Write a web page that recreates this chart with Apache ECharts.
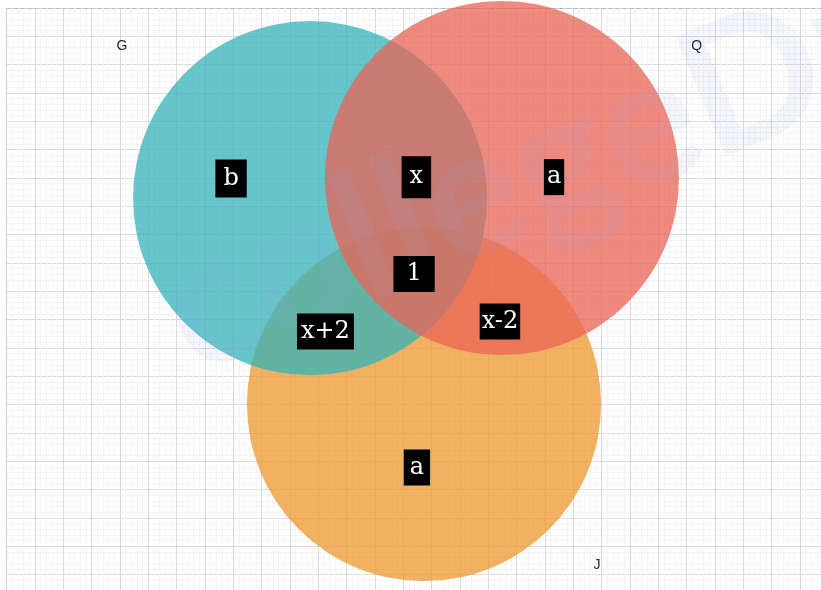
<!DOCTYPE html>
<html><head><meta charset="utf-8">
<script src="https://cdn.jsdelivr.net/npm/echarts@6/dist/echarts.min.js"></script>
<style>html,body{margin:0;padding:0;background:#fff}#c{width:821px;height:590px}</style>
</head><body><div id="c"></div>
<script>
// Sets (circles) in grid units
const setNames = ['G', 'Q', 'J'];
const setCx = [10.71, 17.48, 14.73];
const setCy = [6.71, 6.0, 13.98];
const setR = [6.25, 6.25, 6.25];
const setNameX = [4.07, 24.36, 20.84];
const setNameY = [1.34, 1.34, 19.66];

// Region labels
const regionLabels = ['b', 'x', 'a', '1', 'x+2', 'x-2', 'a'];
const regionX = [7.92, 14.46, 19.32, 14.38, 11.25, 17.41, 14.48];
const regionY = [6.02, 5.97, 5.97, 9.39, 11.42, 11.07, 16.22];

// styles
const setColors = ['rgba(51,179,187,0.75)', 'rgba(234,99,86,0.75)', 'rgba(238,152,48,0.75)'];
const drawOrder = [2, 0, 1];
const padH = [8, 8, 3, 13, 4, 2, 6];
const padV = [7, 9, 6, 6, 6, 6, 6];

const circleData = drawOrder.map(i => ({
  name: setNames[i],
  value: [setCx[i], setCy[i], setR[i]],
  itemStyle: { color: setColors[i] }
}));
const regionData = regionLabels.map((t, i) => ({
  name: t,
  value: [regionX[i], regionY[i]],
  label: { padding: [padV[i], padH[i], padV[i], padH[i]] }
}));
const nameData = setNames.map((t, i) => ({ name: t, value: [setNameX[i], setNameY[i]] }));

const chart = echarts.init(document.getElementById('c'), null, { renderer: 'canvas' });
const unit = 28.33;
const gLeft = 6.7, gTop = 8;
const xMax = (821 - gLeft) / unit;
const yMax = (590 - gTop) / unit;
chart.setOption({
  animation: false,
  backgroundColor: '#fff',
  grid: { left: gLeft, top: gTop, right: 0, bottom: 0, containLabel: false },
  xAxis: {
    type: 'value', min: 0, max: xMax, interval: 1, position: 'top',
    axisLine: { show: true, lineStyle: { color: '#bbb', type: [4, 3], width: 1 } },
    axisTick: { show: false }, axisLabel: { show: false },
    splitLine: { show: true, lineStyle: { color: '#dadada', width: 1 } },
    minorTick: { show: false, splitNumber: 5 },
    minorSplitLine: { show: true, lineStyle: { color: '#f4f4f4', width: 1 } }
  },
  yAxis: {
    type: 'value', min: 0, max: yMax, interval: 1, inverse: true,
    axisLine: { show: true, lineStyle: { color: '#cfcfcf', width: 1 } },
    axisTick: { show: false }, axisLabel: { show: false },
    splitLine: { show: true, lineStyle: { color: '#dadada', width: 1 } },
    minorTick: { show: false, splitNumber: 5 },
    minorSplitLine: { show: true, lineStyle: { color: '#f4f4f4', width: 1 } }
  },
  graphic: [{
    type: 'text', x: 205, y: 405, rotation: 0.39, z: 5, silent: true,
    style: { text: 'collegeDunia', font: 'bold 180px Lato', fill: 'rgba(160,170,225,0.1)', textAlign: 'left', textVerticalAlign: 'bottom' }
  }],
  series: [
    {
      type: 'custom', z: 2,
      renderItem: function (params, api) {
        const c = api.coord([api.value(0), api.value(1)]);
        const s = api.size([api.value(2), api.value(2)]);
        return { type: 'circle', shape: { cx: c[0], cy: c[1], r: s[0] }, style: { fill: api.visual('color') } };
      },
      data: circleData
    },
    {
      type: 'scatter', z: 60, zlevel: 1, symbolSize: 1, itemStyle: { color: 'rgba(0,0,0,0)', opacity: 1 },
      label: {
        show: true, position: 'inside', formatter: '{b}', color: '#fff',
        fontFamily: 'DejaVu Serif', fontSize: 24, backgroundColor: '#000', lineHeight: 24, opacity: 1
      },
      data: regionData
    },
    {
      type: 'scatter', z: 60, zlevel: 1, symbolSize: 1, itemStyle: { color: 'rgba(0,0,0,0)', opacity: 1 },
      label: { show: true, position: 'inside', formatter: '{b}', color: '#1c2333', fontFamily: 'Liberation Sans', fontSize: 14, opacity: 1 },
      data: nameData
    }
  ]
});
</script>
</body></html>
